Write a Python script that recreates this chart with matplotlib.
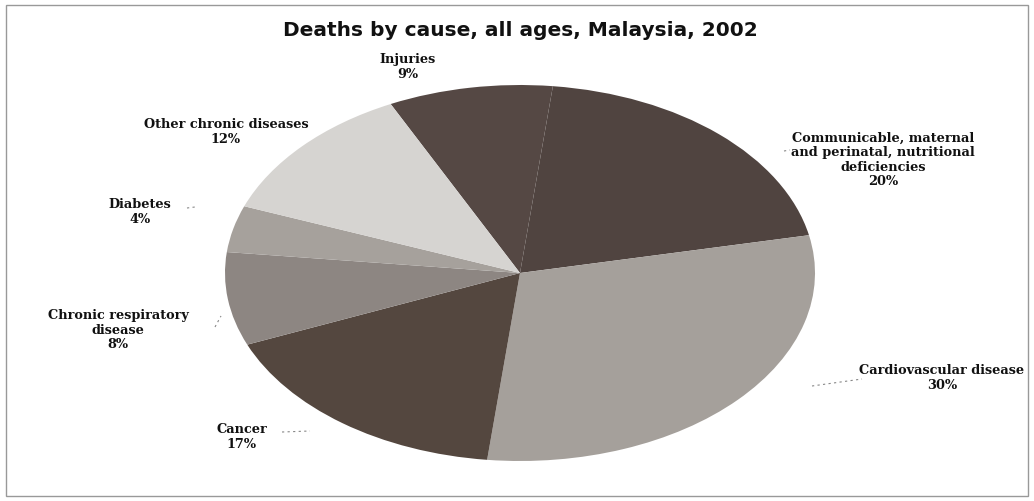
import matplotlib
matplotlib.use("Agg")
import matplotlib.pyplot as plt
from matplotlib.patches import Rectangle
from matplotlib.lines import Line2D

title = "Deaths by cause, all ages, Malaysia, 2002"
categories = ["Injuries", "Communicable, maternal\nand perinatal, nutritional\ndeficiencies",
              "Cardiovascular disease", "Cancer", "Chronic respiratory\ndisease",
              "Diabetes", "Other chronic diseases"]
values = [9, 20, 30, 17, 8, 4, 12]
colors = ["#554844", "#504440", "#a5a09b", "#54473f", "#8d8682", "#a6a19c", "#d6d4d1"]

# label anchor positions in figure pixels (x from left, y from top)
label_pos = [(408, 67), (883, 160), (942, 378), (242, 437), (118, 330), (140, 212), (226, 132)]

W, H = 1034, 501
fig = plt.figure(figsize=(W / 100, H / 100), dpi=100)
fig.patch.set_facecolor("white")

cx, cy, a, b = 520, 273, 295, 188
ax = fig.add_axes([(cx - a) / W, (H - cy - b) / H, 2 * a / W, 2 * b / H])
ax.pie(values, colors=colors, startangle=116, counterclock=False, radius=1,
       wedgeprops=dict(linewidth=0))
ax.set_aspect("auto")
ax.set_xlim(-1, 1)
ax.set_ylim(-1, 1)
ax.axis("off")

for cat, v, (px, py) in zip(categories, values, label_pos):
    fig.text(px / W, 1 - py / H, f"{cat}\n{v}%", ha="center", va="center",
             family="DejaVu Serif", fontweight="bold", fontsize=9.3,
             linespacing=1.12, color="#111111")

fig.text(520 / W, 1 - 31 / H, title, ha="center", va="center",
         family="DejaVu Sans", fontweight="bold", fontsize=14.5, color="#111111")

# small leader marks
leaders = [((187, 208), (195, 207)), ((215, 327), (221, 316)),
           ((282, 432), (310, 431)), ((812, 386), (862, 379)), ((784, 151), (790, 150))]
for (x0, y0), (x1, y1) in leaders:
    fig.add_artist(Line2D([x0 / W, x1 / W], [1 - y0 / H, 1 - y1 / H],
                          transform=fig.transFigure, color="#888888",
                          linewidth=0.8, linestyle=(0, (2, 3))))

fig.patches.append(Rectangle((6 / W, 5 / H), (1028 - 6) / W, (496 - 5) / H,
                             transform=fig.transFigure, fill=False,
                             edgecolor="#999999", linewidth=1))

fig.savefig("out.png", dpi=100, facecolor="white")
